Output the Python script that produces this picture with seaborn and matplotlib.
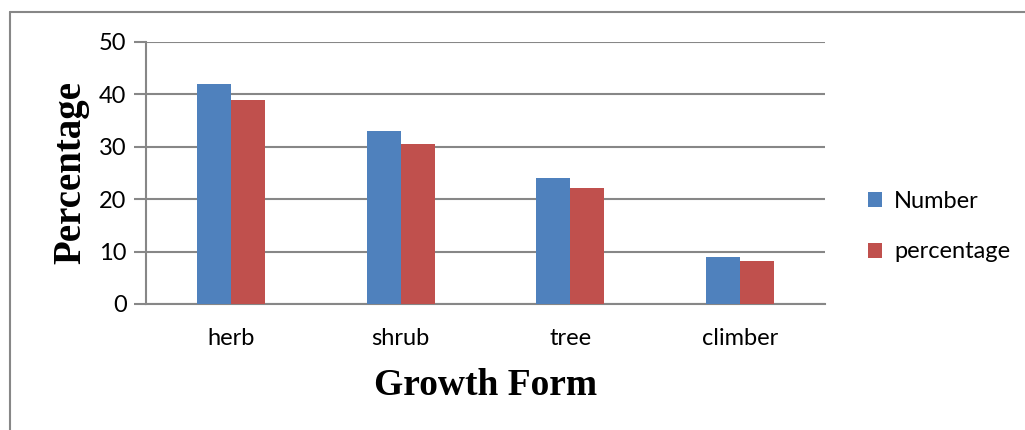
import matplotlib
matplotlib.use("Agg")
import matplotlib.pyplot as plt
import seaborn as sns
import pandas as pd
from matplotlib.lines import Line2D

# Growth form counts and their share of all species
categories = ["herb", "shrub", "tree", "climber"]
number = [42, 33, 24, 9]
percentage = [38.9, 30.6, 22.2, 8.3]
series = ["Number", "percentage"]
colors = ["#4F81BD", "#C0504D"]
yticks = [0, 10, 20, 30, 40, 50]

df = pd.DataFrame({
    "form": categories * 2,
    "value": number + percentage,
    "series": [series[0]] * len(categories) + [series[1]] * len(categories),
})

sns.set_style("white")
plt.rcParams["font.family"] = ["Lato", "DejaVu Sans"]
plt.rcParams["text.color"] = "black"
plt.rcParams["xtick.color"] = "black"
plt.rcParams["ytick.color"] = "black"
plt.rcParams["axes.labelcolor"] = "black"

fig = plt.figure(figsize=(10.25, 4.3), dpi=100)
ax = fig.add_axes([146 / 1025, 1 - 304 / 430, (825 - 146) / 1025, (304 - 42) / 430])

sns.barplot(data=df, x="form", y="value", hue="series", order=categories,
            hue_order=series, palette=colors, width=0.4, saturation=1,
            linewidth=0, ax=ax, zorder=3)

grid_c = "#878787"
ax.set_ylim(0, 50)
ax.set_xlim(-0.5, len(categories) - 0.5)
ax.set_yticks(yticks)
ax.yaxis.grid(True, color=grid_c, linewidth=1.5, zorder=0)
ax.set_axisbelow(True)
for s in ["top", "right"]:
    ax.spines[s].set_visible(False)
for s in ["left", "bottom"]:
    ax.spines[s].set_color(grid_c)
    ax.spines[s].set_linewidth(1.5)
ax.tick_params(axis="y", length=9, width=1.5, color=grid_c, labelcolor="black",
               labelsize=17, pad=5, left=True)
ax.tick_params(axis="x", length=0, labelsize=17, labelcolor="black", pad=17)

ax.set_ylabel("Percentage", fontsize=28, fontweight="bold",
              family="Liberation Serif", labelpad=7)
ax.set_xlabel("Growth Form", fontsize=27, fontweight="bold",
              family="Liberation Serif", labelpad=14)

ax.legend(loc="center left", bbox_to_anchor=(1.032, 0.295), frameon=False,
          fontsize=17, handlelength=0.6, handleheight=0.6,
          handletextpad=0.5, labelspacing=1.25)

# Outer chart frame (top and left edges)
fig.add_artist(Line2D([10 / 1025, 1], [1 - 12 / 430] * 2, color=grid_c,
                      linewidth=1.5, transform=fig.transFigure))
fig.add_artist(Line2D([10 / 1025] * 2, [0, 1 - 12 / 430], color=grid_c,
                      linewidth=1.5, transform=fig.transFigure))

fig.savefig("out.png", dpi=100)
